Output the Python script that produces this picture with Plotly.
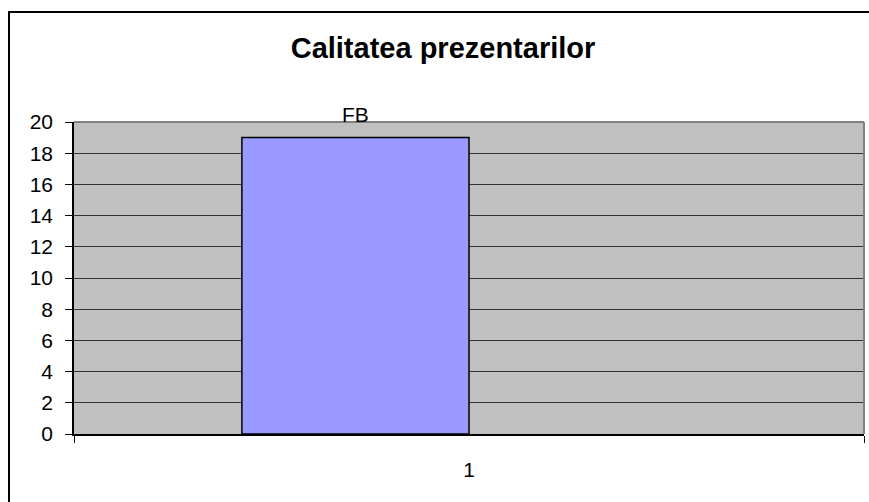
import plotly.graph_objects as go

categories = ["1"]
series_names = ["FB", "S2"]
series_values = [[19], [None]]
series_colors = ["#9999FF", "#993366"]
y_ticks = list(range(0, 21, 2))
title_text = "Calitatea prezentarilor"

FONT = "Liberation Sans, Arial, sans-serif"
W, H = 869, 502
L, R, T, B = 74, 5, 122, 68
BARGAP = 0.425

fig = go.Figure()
for name, vals, col in zip(series_names, series_values, series_colors):
    fig.add_trace(go.Bar(
        x=categories, y=vals, name=name,
        marker=dict(color=col, line=dict(color="black", width=1.5)),
    ))

pw = W - L - R
ph = H - T - B

# outer chart-area border (left and top visible)
fig.add_shape(type="rect", xref="paper", yref="paper",
              x0=(9 - L) / pw, x1=(W + 20 - L) / pw,
              y0=-(H + 20 - T - ph) / ph, y1=(H - B - 12) / ph,
              line=dict(color="black", width=2), layer="below")
# plot-area gray border top & right
fig.add_shape(type="line", xref="x domain", yref="y domain", x0=0, x1=1, y0=1, y1=1,
              line=dict(color="#808080", width=2))
fig.add_shape(type="line", xref="x domain", yref="y domain", x0=1, x1=1, y0=0, y1=1,
              line=dict(color="#808080", width=2))

# series label above the bar
fig.add_annotation(x=0 - (1 - BARGAP) / 4, y=series_values[0][0], xref="x", yref="y",
                   text=series_names[0], showarrow=False, yanchor="bottom",
                   yshift=10, font=dict(family=FONT, size=21, color="black"))

fig.update_layout(
    width=W, height=H,
    margin=dict(l=L, r=R, t=T, b=B),
    paper_bgcolor="white", plot_bgcolor="#C0C0C0",
    barmode="group", bargap=BARGAP, bargroupgap=0,
    showlegend=False,
    title=dict(text="<b>" + title_text + "</b>", x=443 / W, xanchor="center",
               y=1 - 48 / H, yanchor="middle", yref="container",
               font=dict(family=FONT, size=29, color="black")),
    font=dict(family=FONT, size=21, color="black"),
)
fig.update_xaxes(type="category", range=[-0.5, 0.5], showgrid=False,
                 showline=True, linecolor="black", linewidth=1.5,
                 ticks="outside", tickson="boundaries", ticklen=7, tickcolor="black",
                 ticklabelstandoff=16, tickfont=dict(family=FONT, size=21, color="black"))
fig.update_yaxes(range=[0, 20], tickvals=y_ticks, showgrid=True, gridcolor="#333333",
                 gridwidth=1, showline=True, linecolor="black", linewidth=1.5,
                 ticks="outside", ticklen=7, tickcolor="black", zeroline=False,
                 ticklabelstandoff=8, tickfont=dict(family=FONT, size=21, color="black"))

fig.write_html("out.html", config={"displayModeBar": False},
               post_script="document.body.style.margin='0';")
